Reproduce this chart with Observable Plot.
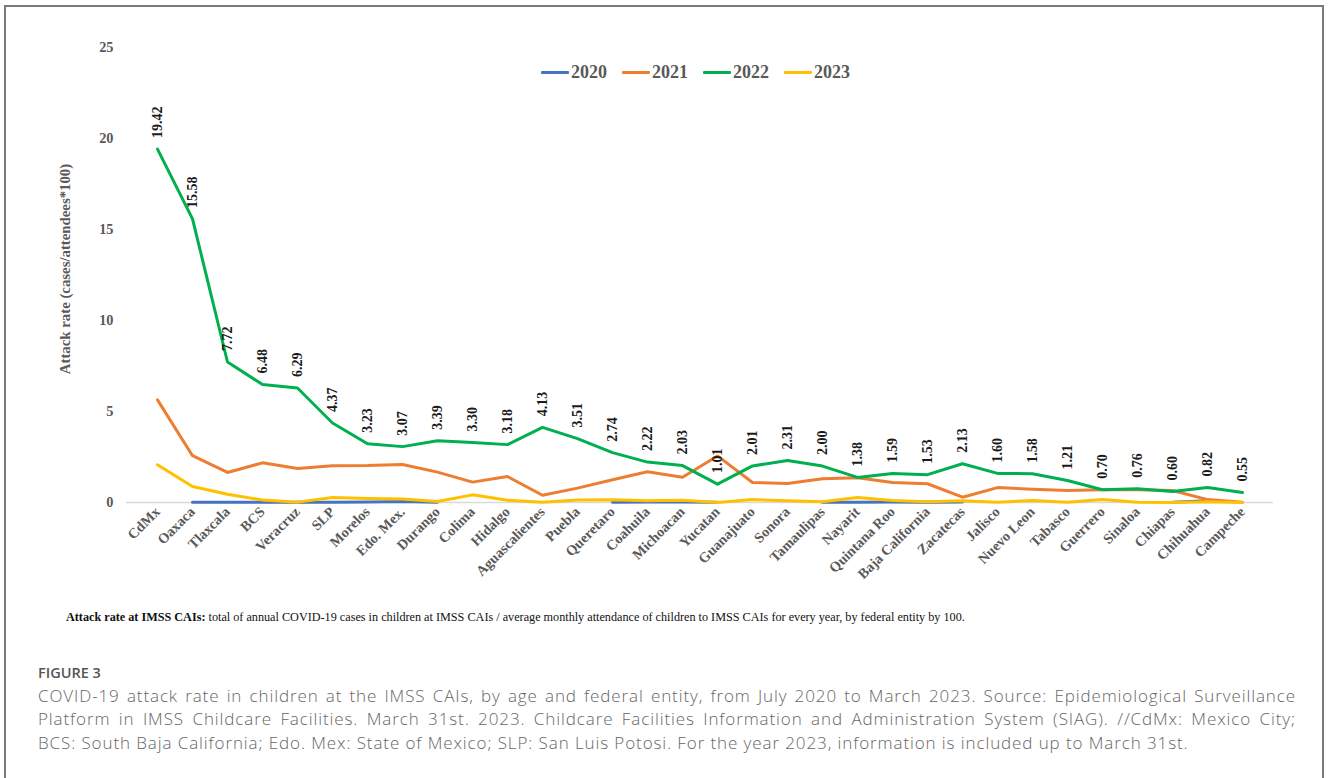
<!DOCTYPE html>
<html>
<head>
<meta charset="utf-8">
<script src="https://cdn.jsdelivr.net/npm/d3@7"></script>
<script src="https://cdn.jsdelivr.net/npm/@observablehq/plot@0.6"></script>
<style>
  html, body { margin: 0; padding: 0; background: #fff; }
  body { width: 1328px; height: 778px; position: relative; overflow: hidden; }
  #frame { position: absolute; left: 4px; top: 5px; width: 1320px; height: 900px; border: 2px solid #7a7a7a; box-sizing: border-box; }
  #chart { position: absolute; left: 0; top: 0; }
  #legend { position: absolute; top: 62px; left: 541px; display: flex; align-items: center; font-family: "Liberation Serif", serif; font-weight: bold; font-size: 18px; color: #595959; }
  #legend .item { display: flex; align-items: center; margin-right: 15px; }
  #legend .sw { width: 28px; height: 3px; margin-right: 2px; border-radius: 1px; }
  #note { position: absolute; left: 66px; top: 610px; font-family: "Liberation Serif", serif; font-size: 12.2px; color: #111; white-space: nowrap; }
  #fig { position: absolute; left: 38px; top: 663px; font-family: "Open Sans", sans-serif; font-weight: 600; font-size: 14.5px; color: #555; }
  #cap { position: absolute; left: 38px; top: 684px; width: 1258px; font-family: "Open Sans", sans-serif; font-weight: 300; font-size: 17px; line-height: 23.3px; letter-spacing: 0.9px; color: #666; }
  #cap .j { text-align: justify; text-align-last: justify; white-space: nowrap; }
</style>
</head>
<body>
<div id="frame"></div>
<div id="chart"></div>
<div id="legend"></div>
<div id="note"><b>Attack rate at IMSS CAIs:</b> total of annual COVID-19 cases in children at IMSS CAIs / average monthly attendance of children to IMSS CAIs for every year, by federal entity by 100.</div>
<div id="fig">FIGURE 3</div>
<div id="cap">
  <div class="j">COVID-19 attack rate in children at the IMSS CAIs, by age and federal entity, from July 2020 to March 2023. Source: Epidemiological Surveillance</div>
  <div class="j">Platform in IMSS Childcare Facilities. March 31st. 2023. Childcare Facilities Information and Administration System (SIAG). //CdMx: Mexico City;</div>
  <div>BCS: South Baja California; Edo. Mex: State of Mexico; SLP: San Luis Potosi. For the year 2023, information is included up to March 31st.</div>
</div>
<script>
const states = ["CdMx","Oaxaca","Tlaxcala","BCS","Veracruz","SLP","Morelos","Edo. Mex.","Durango","Colima","Hidalgo","Aguascalientes","Puebla","Queretaro","Coahuila","Michoacan","Yucatan","Guanajuato","Sonora","Tamaulipas","Nayarit","Quintana Roo","Baja California","Zacatecas","Jalisco","Nuevo Leon","Tabasco","Guerrero","Sinaloa","Chiapas","Chihuahua","Campeche"];
const years = ["2020","2021","2022","2023"];
const colors = ["#4472C4","#ED7D31","#00B050","#FFC000"];
const v2020 = [null,0.02,0.02,0.02,0.02,0.02,0.03,0.06,0.02,null,null,null,null,0.02,0.03,0.03,0.01,null,null,0.02,0.02,0.03,0.02,0.03,null,null,null,null,null,0.01,0.09,null];
const v2021 = [5.64,2.57,1.65,2.18,1.87,2.02,2.03,2.09,1.67,1.12,1.43,0.40,0.79,1.25,1.69,1.39,2.56,1.10,1.04,1.30,1.36,1.10,1.03,0.29,0.82,0.73,0.66,0.70,0.70,0.66,0.16,0.02];
const v2022 = [19.42,15.58,7.72,6.48,6.29,4.37,3.23,3.07,3.39,3.30,3.18,4.13,3.51,2.74,2.22,2.03,1.01,2.01,2.31,2.00,1.38,1.59,1.53,2.13,1.60,1.58,1.21,0.70,0.76,0.60,0.82,0.55];
const v2023 = [2.07,0.88,0.45,0.14,0.02,0.28,0.22,0.19,0.05,0.42,0.12,0.02,0.14,0.15,0.10,0.13,0.00,0.16,0.10,0.04,0.27,0.11,0.04,0.10,0.02,0.11,0.02,0.16,0.02,0.00,0.04,0.00];
const yTicks = [0,5,10,15,20,25];
const yTitle = "Attack rate (cases/attendees*100)";

const series = [v2020, v2021, v2022, v2023];
const rows = [];
years.forEach((yr, k) => states.forEach((s, i) => rows.push({state: s, year: yr, value: series[k][i]})));
const rows2022 = rows.filter(d => d.year === "2022");

const chart = Plot.plot({
  width: 1328,
  height: 600,
  marginLeft: 126,
  marginRight: 55,
  marginTop: 47,
  marginBottom: 98,
  style: {fontFamily: "'Liberation Serif', serif", fontSize: "14.3px", fontWeight: "bold", color: "#595959", background: "transparent"},
  x: {type: "point", domain: states, padding: 0.5, tickRotate: -45, tickSize: 0, tickPadding: 7, label: null},
  y: {domain: [0, 25], ticks: yTicks, tickSize: 0, tickPadding: 13, label: null},
  color: {domain: years, range: colors},
  marks: [
    Plot.ruleY([0], {stroke: "#d9d9d9", strokeWidth: 1.3}),
    Plot.line(rows, {x: "state", y: "value", z: "year", stroke: "year", strokeWidth: 3, strokeLinejoin: "round", strokeLinecap: "round"}),
    Plot.text(rows2022, {x: "state", y: "value", text: d => d.value.toFixed(2), rotate: -90, textAnchor: "start", lineAnchor: "middle", dy: -11, fontSize: 14, fontWeight: "bold", fill: "#1a1a1a"}),
    Plot.text([yTitle], {frameAnchor: "left", textAnchor: "middle", lineAnchor: "middle", rotate: -90, dx: -61, dy: -6, fontSize: 14.8, fontWeight: "bold", fill: "#595959"})
  ]
});
document.getElementById("chart").appendChild(chart);

const legend = document.getElementById("legend");
years.forEach((yr, k) => {
  const item = document.createElement("div");
  item.className = "item";
  const sw = document.createElement("span");
  sw.className = "sw";
  sw.style.background = colors[k];
  const t = document.createElement("span");
  t.textContent = yr;
  item.appendChild(sw);
  item.appendChild(t);
  legend.appendChild(item);
});
</script>
</body>
</html>
